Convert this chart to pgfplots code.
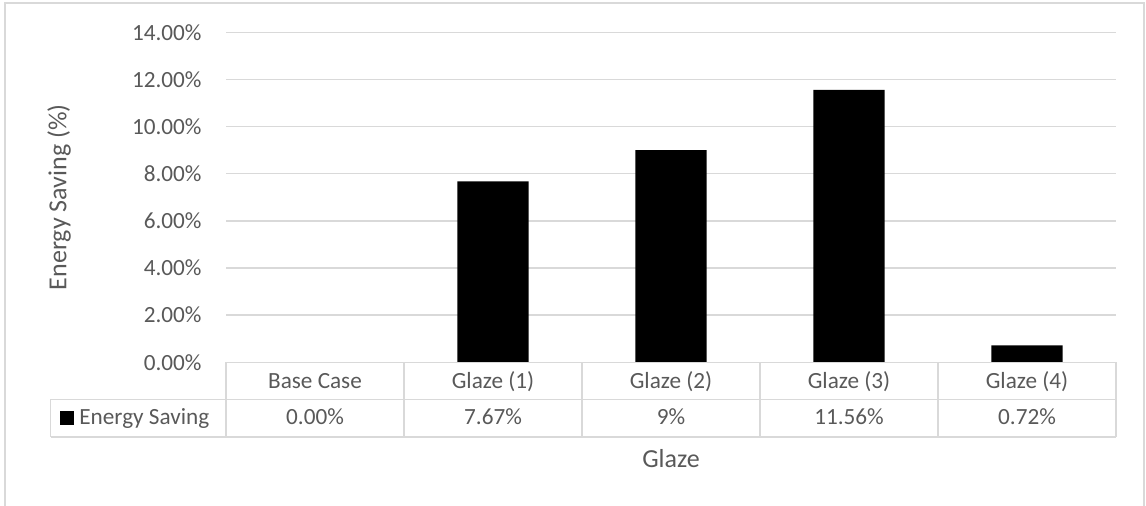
\documentclass[border=0pt]{standalone}
\usepackage{pgfplots}
\pgfplotsset{compat=1.18}
\usepackage{fontspec}
\setmainfont{Carlito}
\definecolor{txt}{HTML}{595959}
\definecolor{grd}{HTML}{D9D9D9}
\newcommand\tfont{\fontsize{11.6}{13.9}\selectfont}
\newcommand\lfont{\fontsize{13}{15.6}\selectfont}

\begin{document}
\begin{tikzpicture}[x=1pt,y=1pt]
\useasboundingbox (0,0) rectangle (573,253);
% chart frame
\draw[grd, line width=0.75pt] (2.5,0) -- (2.5,251.4) -- (572,251.4) -- (572,0);
\begin{axis}[
    at={(113pt,71.85pt)}, anchor=south west,
    scale only axis, width=445pt, height=165pt,
    xmin=-0.5, xmax=4.5, ymin=0, ymax=14,
    clip=false,
    axis line style={draw=none},
    major tick length=0pt,
    ytick={0,2,...,14},
    ymajorgrids, grid style={grd, line width=0.75pt},
    /pgf/number format/assume math mode=true,
    yticklabel={\pgfmathprintnumber[fixed,fixed zerofill,precision=2]{\tick}\%},
    yticklabel style={anchor=east, xshift=-8.7pt, font=\tfont, text=txt},
    xtick={0,...,4},
    xticklabels={Base Case, Glaze (1), Glaze (2), Glaze (3), Glaze (4)},
    xticklabel style={anchor=base, yshift=-13.1pt, font=\tfont, text=txt},
    ylabel={Energy Saving (\%)},
    ylabel style={at={(axis description cs:-0.1876,0.5)}, anchor=center, font=\lfont, text=txt},
    xlabel={Glaze},
    xlabel style={at={(axis description cs:0.5,-0.318)}, anchor=base, font=\lfont, text=txt},
    ybar, bar width=0.4,
    legend style={at={(axis cs:-1.4365,-2.37)}, anchor=west, draw=none, fill=none,
        inner sep=0pt, column sep=2.85pt, font=\tfont, text=txt,
        nodes={inner sep=0pt}},
    legend image code/.code={\fill[black] (0pt,-3.5pt) rectangle (7pt,3.5pt);},
]
\addplot[fill=black, draw=none] coordinates {(0,0) (1,7.67) (2,9) (3,11.56) (4,0.72)};
\addlegendentry{Energy Saving}

% data table grid
\draw[grd, line width=0.75pt] (axis cs:-0.5,0) -- (axis cs:4.5,0);
\draw[grd, line width=0.75pt] (axis cs:-1.485,-1.57) -- (axis cs:4.5,-1.57);
\draw[grd, line width=0.75pt] (axis cs:-1.485,-3.17) -- (axis cs:4.5,-3.17);
\draw[grd, line width=0.75pt] (axis cs:-1.485,-1.57) -- (axis cs:-1.485,-3.17);
\draw[grd, line width=0.75pt] (axis cs:-0.5,0) -- (axis cs:-0.5,-3.17);
\draw[grd, line width=0.75pt] (axis cs:0.5,0) -- (axis cs:0.5,-3.17);
\draw[grd, line width=0.75pt] (axis cs:1.5,0) -- (axis cs:1.5,-3.17);
\draw[grd, line width=0.75pt] (axis cs:2.5,0) -- (axis cs:2.5,-3.17);
\draw[grd, line width=0.75pt] (axis cs:3.5,0) -- (axis cs:3.5,-3.17);
\draw[grd, line width=0.75pt] (axis cs:4.5,0) -- (axis cs:4.5,-3.17);

% table values
\node[anchor=base, font=\tfont, text=txt] at (axis cs:0,-2.66) {0.00\%};
\node[anchor=base, font=\tfont, text=txt] at (axis cs:1,-2.66) {7.67\%};
\node[anchor=base, font=\tfont, text=txt] at (axis cs:2,-2.66) {9\%};
\node[anchor=base, font=\tfont, text=txt] at (axis cs:3,-2.66) {11.56\%};
\node[anchor=base, font=\tfont, text=txt] at (axis cs:4,-2.66) {0.72\%};
\end{axis}
\end{tikzpicture}
\end{document}
